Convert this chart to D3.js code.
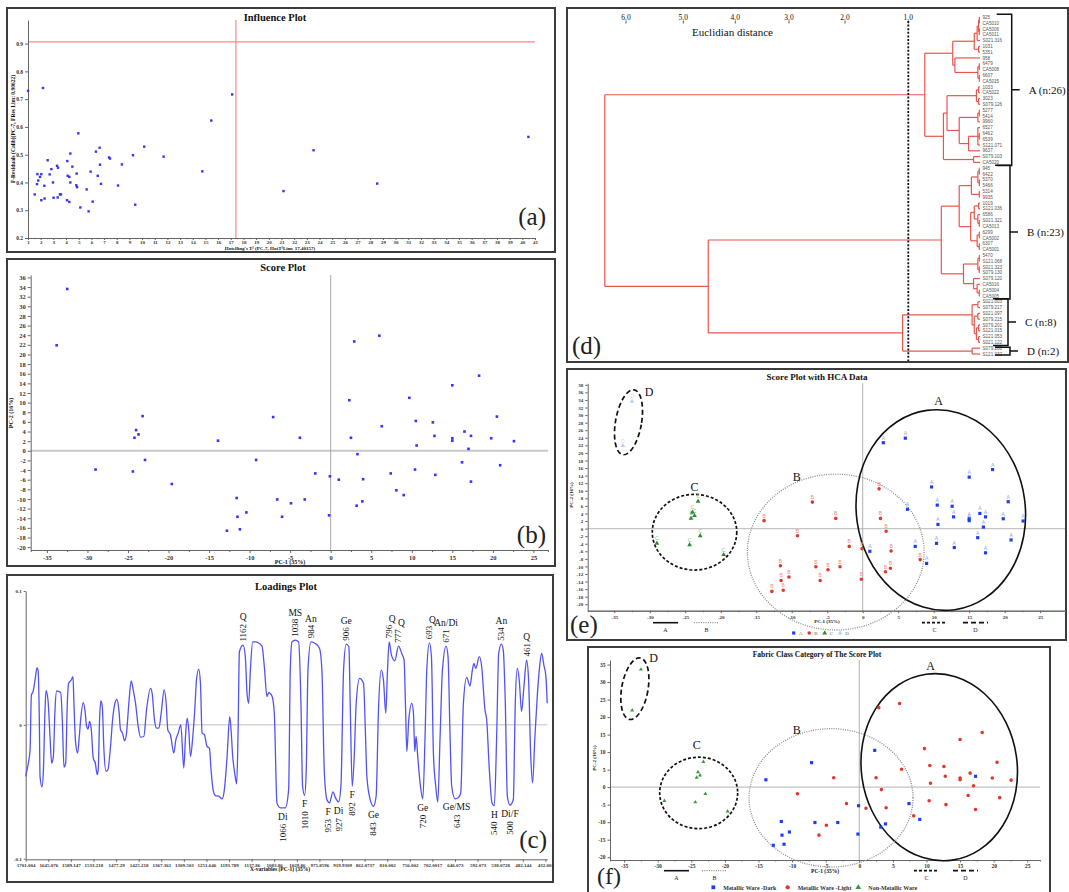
<!DOCTYPE html>
<html>
<head>
<meta charset="utf-8">
<title>PCA / HCA figure</title>
<script src="https://cdnjs.cloudflare.com/ajax/libs/d3/7.8.5/d3.min.js"></script>
<style>
  body { margin: 0; background: #fff; }
  svg { display: block; }
  text { font-family: "Liberation Serif", "Times New Roman", serif; }
</style>
</head>
<body>
<div id="figure"></div>
<script>
// ---------------- data ----------------

// (a) influence plot
var hotT2 = [1.0,2.18,1.53,1.74,1.71,1.81,1.95,2.05,2.05,2.29,2.31,2.55,2.71,2.84,2.97,3.02,3.29,3.37,3.34,3.52,
  3.6,4.1,4.13,4.26,4.08,4.26,4.34,4.34,4.5,4.84,4.81,4.87,4.97,5.13,5.63,5.78,5.94,6.1,6.36,6.5,
  6.65,6.68,6.76,7.39,7.47,8.1,8.41,9.28,9.46,10.17,11.7,14.75,15.46,17.11,21.16,23.53,28.55,40.48];
var fRes = [0.73,0.74,0.357,0.43,0.394,0.407,0.42,0.43,0.336,0.388,0.342,0.48,0.429,0.448,0.40,0.345,0.46,0.453,0.346,0.357,
  0.357,0.477,0.424,0.42,0.336,0.33,0.504,0.40,0.457,0.432,0.39,0.383,0.577,0.31,0.375,0.296,0.439,0.331,0.511,0.424,
  0.525,0.464,0.395,0.49,0.486,0.389,0.465,0.498,0.32,0.529,0.493,0.44,0.623,0.717,0.369,0.516,0.396,0.564];
var hotLim = 17.40157;
var fResLim = 0.90622;

// (b), (e), (f) scores of the 59 samples
var pc1 = [2.9,6.0,18.3,15.0,9.7,10.5,12.6,6.3,20.5,16.5,12.8,15.0,15.0,17.3,19.8,22.6,10.6,17.0,16.2,20.9,10.4,12.9,17.3,7.4,1.0,9.0,
  2.3,-7.1,-3.8,2.5,3.3,-1.9,-0.1,4.0,8.1,3.9,3.2,-6.6,-4.9,-3.2,-6.0,-0.2,-11.6,-11.5,-10.4,-12.8,-11.2,-13.9,-9.2,
  -23.2,-24.0,-23.7,-24.2,-22.9,-29.0,-24.4,-19.6,
  -32.5,-33.8];
var pc2 = [22.7,23.9,15.6,13.6,11.0,6.2,5.9,5.1,7.1,4.0,3.1,2.6,2.1,3.1,2.6,2.0,1.1,0.4,-2.4,-3.0,-3.9,-5.0,-6.4,-4.7,-6.0,-9.2,
  10.5,7.0,2.7,2.7,-0.7,-4.7,-5.3,-5.9,-8.2,-10.5,-11.4,-10.1,-10.9,-10.1,-13.7,-13.4,-9.8,-13.7,-12.8,-16.6,-16.3,2.1,-1.9,
  7.2,4.3,3.4,2.7,-1.9,-3.9,-4.3,-6.9,
  33.6,21.9];
var hcaGroup = "AAAAAAAAAAAAAAAAAAAAAAAAAABBBBBBBBBBBBBBBBBBBBBBBCCCCCCCCDD".split("");
var fabric = ("LLLLLLLLLLLLLDLLLLLLLLLDLD" + "DDLLLLDLLDDDLDLDDDDDDDL" + "NNNNNNNNNN").split("");
var fabricNames = ["Metallic Ware -Dark", "Metallic Ware -Light", "Non-Metallic Ware"];

// HCA cluster ellipses (data units): centre, radii, tilt
var ellE = [["A",11.0,4.9,11.9,26.6,-8],["B",-3.8,-6.2,12.45,20.6,0],["C",-23.7,-0.95,5.95,10.0,0],["D",-33.0,28.1,1.83,8.7,10]];
var ellELabel = [[10.7,33.8],[-9.3,13.7],[-23.7,11.1],[-30.1,36.1]];
var ellF = [["A",11.9,5.7,11.6,26.8,-8],["B",-4.2,-3.05,12.2,19.75,0],["C",-23.9,-1.65,5.8,10.2,0],["D",-33.4,28.1,1.96,8.9,10]];
var ellFLabel = [[10.6,34.7],[-9.3,16.5],[-24.2,12.0],[-30.6,36.8]];

// (c) loadings of PC-1 against variable number (29 variables per tick)
var loadTicks = ["1701.004","1645.076","1589.147","1533.218","1477.29","1425.218","1367.361","1309.503","1251.646","1193.789",
  "1137.86","1083.86","1029.86","975.8596","919.9309","862.0737","810.002","756.002","702.0017","646.073","592.073",
  "538.0728","482.144","432.001"];
var loadings = [
[0,-0.0385],[3.4,-0.0285],[5.6,-0.0186],[7.3,0.0223],[9.4,0.0248],[12,0.0335],[14.5,0.0427],[15.8,0.0409],[17.5,0.0037],[18.4,-0.0385],
[20.9,-0.0464],[22.6,-0.036],[24.8,0.0112],[26.1,0.0256],[28.6,0.0186],[31.2,-0.0087],[33.3,-0.0285],[35.5,-0.0236],[37.6,0.0112],[39.7,0.0253],
[44.9,0.0241],[47,0.0037],[49.1,-0.0315],[51.3,-0.0285],[53.4,0.0161],[55.1,0.031],[58.5,0.0335],[60.7,0.036],[61.9,0.0161],[64.1,-0.0136],
[66.6,-0.0211],[68.8,-0.0087],[70.5,0.0037],[73.9,0.0166],[76,0.0112],[78.2,-0.0012],[79.9,-0.0032],[82,0.0025],[84.2,-0.0037],[86.7,-0.0248],
[89.3,-0.0285],[91.8,-0.0372],[93.1,-0.0335],[94.8,0.0037],[96.5,0.0179],[98.3,0.0136],[100.4,-0.0186],[103,-0.0347],[105.5,-0.0335],[108.9,-0.0161],
[111.5,0.0037],[114.5,0.0161],[117,0.0191],[119.6,0.0112],[121.7,-0.0037],[124.3,-0.0062],[126.9,-0.0119],[129.4,-0.0062],[132.4,0.0161],[135.4,0.0328],
[138,0.0261],[141,0.0161],[144.4,-0.0012],[147.4,-0.0092],[151.6,-0.0087],[155.1,0.0112],[160.2,0.0273],[162.3,0.0236],[165.3,0.0037],[167.9,-0.0025],
[170.9,-0.0025],[173.9,0.0087],[177.7,0.0261],[180.3,0.0161],[182.4,-0.0037],[185.8,-0.0074],[190.1,-0.0211],[192.7,-0.0112],[195.7,-0.0062],[199.1,0],
[202.9,-0.0323],[205.1,-0.0087],[207.2,0.005],[209.3,-0.0037],[211.5,-0.0236],[214.5,-0.0087],[217,0.0112],[219.2,0.0335],[222.1,0.0417],[224.3,0.031],
[226.4,-0.0062],[229.4,-0.0074],[232.8,-0.0161],[235.8,-0.0174],[237.9,-0.0335],[240.5,-0.0484],[243.5,-0.0529],[247.8,-0.0533],[252,-0.0553],[255,-0.0484],
[258.5,-0.0236],[261.9,0.0062],[263.6,-0.0037],[265.7,-0.0236],[268.3,-0.036],[270.8,-0.0442],[272.5,-0.0087],[274.3,0.0546],[279,0.0596],[281.9,0.0509],
[284.1,0.0236],[286.2,0.0161],[288.4,0.0409],[291.3,0.062],[294.8,0.062],[303.3,0.0588],[306.3,0.0434],[309.7,0.0211],[311.9,0.0241],[316.1,0.0216],
[319.1,0.0087],[322.5,-0.0583],[326.8,-0.062],[333.2,-0.062],[337.5,-0.0484],[339.6,0.0409],[341.8,0.062],[346,0.0633],[350.3,0.062],[353.3,0.0161],
[355.4,-0.0459],[358,-0.0526],[360.1,-0.0335],[362.3,0.0409],[366.1,0.062],[371.7,0.0608],[377.2,0.0571],[380.2,0.0409],[383.2,-0.0335],[386.6,-0.0558],
[390,-0.0583],[394.3,-0.0501],[397.7,-0.0546],[401.6,-0.0576],[404.6,-0.0459],[408,0.0409],[411.4,0.0603],[414.8,0.0583],[416.5,0.0161],[419.1,-0.0459],
[421.7,-0.0236],[424.2,0.0161],[428.5,0.0347],[433.6,0.031],[436.2,-0.0087],[437.9,-0.0385],[442.2,-0.0558],[446.4,-0.0608],[449.8,-0.0533],[452.8,0.0112],
[456.3,0.0409],[459.2,0.0335],[462.2,0.0087],[464.4,0.0409],[466.5,0.062],[469.5,0.0521],[473.8,0.0479],[478.5,0.0588],[482.7,0.0533],[485.7,0.0484],
[487.4,0.0161],[489.2,-0.0199],[491.7,0.0037],[495.6,0.0161],[497.7,0.0087],[499.4,-0.0199],[501.1,-0.0087],[503.2,-0.0236],[506.2,-0.0434],[509.7,-0.0553],
[512.6,-0.0087],[514.8,0.0409],[518.2,0.0613],[520.8,0.0509],[523.3,-0.0211],[526.3,-0.0459],[528.9,-0.0578],[531.9,-0.0087],[534.9,0.0409],[539.6,0.0588],
[542.1,0.0509],[544.7,-0.0087],[546.8,-0.0459],[551.1,-0.0553],[555.4,-0.0543],[558.4,-0.0509],[561.8,0.0161],[566,0.0355],[570.3,0.029],[573.3,0.0409],
[575.4,0.0459],[577.6,0.0422],[582.3,0.0509],[585.3,0.0434],[589.5,0.0112],[591.7,0.0037],[595.1,-0.0335],[598.5,-0.0583],[601.5,-0.0603],[604.5,-0.0087],
[607.1,0.0533],[610.5,0.0603],[613,0.0558],[615.6,0.0161],[618.2,-0.0533],[621.6,-0.06],[625.9,-0.0558],[628.4,0.0161],[631,0.0422],[633.5,0.0335],
[636.5,0.0099],[639.5,0.0285],[642.9,0.0484],[645.5,0.0335],[648.1,-0.0211],[650.6,-0.0434],[653.6,-0.0087],[656.6,0.0211],[659.2,0.0409],[662.2,0.0533],
[665.1,0.0447],[667.7,0.036],[669.4,0.0161]
];
// band assignments: [letter, wavenumber, variable, loading]
var peakMarks = [["Q","1162",279,0.0596],["MS","1038",346,0.0633],["An","984",366.1,0.062],["Ge","906",411.4,0.0603],
  ["Q","796",466.5,0.062],["Q","777",478.5,0.0588],["Q","693",518.2,0.0613],["An/Di","671",539.6,0.0588],
  ["An","534",610.5,0.0603],["Q","461",642.9,0.0484]];
var valleyMarks = [["Di","1066",330,-0.062],["F","1010",358,-0.0526],["F","953",388.3,-0.0583],["Di","927",401.6,-0.0576],
  ["F","892",419.1,-0.0459],["Ge","843",446.4,-0.0608],["Ge","720",509.7,-0.0553],["Ge/MS","643",553,-0.055],
  ["H","540",601.5,-0.0603],["Di/F","500",621.6,-0.06]];

// (d) dendrogram: [merge distance, children...]
var treeA = [0.77,
  [0.38,
    [0.08, [0.04, [0.02, [0.01,"925","CA5010"], [0.01,"CA5006","CA5011"]], "S021.316"], [0.02,"1031","5351"]],
    [0.35, "958", [0.03, [0.01,"6479","CA5008"], [0.01,"6607","CA5015"]]]],
  [0.51,
    [0.46, [0.05, [0.02,"1033","CA5022"], [0.02,"3023","S079.126"]],
           [0.29, [0.03, [0.01,"5277","5414"], "9960"], [0.16, [0.03, "6527", [0.01,"6462","6539"], "S121.071"], "9637"]]],
    [0.09, "S079.103", "CA5020"]]];
var treeB = [0.54,
  [0.29,
    [0.12, [0.03, [0.01,"945","6422"], [0.01,"5370","5466"]], [0.01,"5314","9935"]],
    [0.13, [0.08, [0.02,"1019","S121.036"], [0.03,"6586",[0.01,"S021.321","CA5013"]]],
           [0.04, [0.01,"6299","CA5002"], [0.01,"6307","CA5001"]]]],
  [0.23,
    [0.03, [0.01,"5470","S121.068"], [0.01,"S021.323","S079.130"]],
    [0.09, "S079.120", [0.04, "CA5016", [0.01,"CA5004","CA5005"]]]]];
var treeC = [0.11, [0.03,"S021.003","S079.217"],
  [0.08, [0.03,"S021.097","S079.215"], [0.05, [0.02,"S079.201","S121.015"], [0.02,"S121.053","S021.122"]]]];
var treeD = [0.11, "S079.200", "S121.032"];
var treeRoot = [6.37, treeA, [4.52, treeB, [1.09, treeC, treeD]]];
var clusterLabels = ["A (n:26)", "B (n:23)", "C (n:8)", "D (n:2)"];
var distTicks = [6.0, 5.0, 4.0, 3.0, 2.0, 1.0];
var cutDistance = 1.0;

// ---------------- drawing ----------------
var svg = d3.select("#figure").append("svg").attr("width", 1069).attr("height", 892);

function panelBox(x0, y0, x1, y1) {
  svg.append("rect").attr("x", x0).attr("y", y0).attr("width", x1 - x0).attr("height", y1 - y0)
    .attr("fill", "none").attr("stroke", "#3c3c3c").attr("stroke-width", 2);
}
function tidyAxis(g, size) {
  g.attr("font-family", null);
  g.select(".domain").attr("stroke", "#666");
  g.selectAll(".tick line").attr("stroke", "#666");
  g.selectAll(".tick text").attr("font-size", size).attr("font-weight", "bold").attr("fill", "#333")
    .style("font-family", "'Liberation Serif', serif");
  return g;
}
function label(x, y, s, size, opts) {
  opts = opts || {};
  var t = svg.append("text").attr("x", x).attr("y", y).text(s)
    .attr("font-size", size).attr("fill", opts.fill || "#111")
    .attr("text-anchor", opts.anchor || "middle")
    .attr("font-weight", opts.bold ? "bold" : null);
  if (opts.rotate) t.attr("transform", "rotate(-90," + x + "," + y + ")");
  return t;
}
var fmt = function(d) { return String(d); };

// ===== (a) Influence plot =====
panelBox(7, 8, 555, 252);
var xA = d3.scaleLinear().domain([1, 41]).range([28, 535]);
var yA = d3.scaleLinear().domain([0.2, 0.985]).range([238, 20]);
var gA = svg.append("g");
gA.append("line").attr("x1", xA(1)).attr("x2", xA(41)).attr("y1", yA(fResLim)).attr("y2", yA(fResLim))
  .attr("stroke", "#f28c8c").attr("stroke-width", 1.2);
gA.append("line").attr("x1", xA(hotLim)).attr("x2", xA(hotLim)).attr("y1", yA(0.985)).attr("y2", yA(0.2))
  .attr("stroke", "#f28c8c").attr("stroke-width", 1.2);
gA.append("g").attr("transform", "translate(0,238)")
  .call(d3.axisBottom(xA).tickValues(d3.range(1.5, 41, 1)).tickSize(1.2).tickFormat(""))
  .call(tidyAxis, 5);
gA.append("g").attr("transform", "translate(0,238)")
  .call(d3.axisBottom(xA).tickValues(d3.range(1, 42)).tickSize(2).tickSizeOuter(0).tickPadding(0.5).tickFormat(fmt))
  .call(tidyAxis, 5);
gA.append("g").attr("transform", "translate(28,0)")
  .call(d3.axisLeft(yA).tickValues([0.2,0.3,0.4,0.5,0.6,0.7,0.8,0.9]).tickSize(3).tickSizeOuter(0).tickPadding(2).tickFormat(d3.format(".1f")))
  .call(tidyAxis, 5.5);
gA.selectAll("rect.pt").data(hotT2).join("rect").attr("class", "pt")
  .attr("x", function(d) { return xA(d) - 1.2; })
  .attr("y", function(d, i) { return yA(fRes[i]) - 1.2; })
  .attr("width", 2.4).attr("height", 2.4).attr("fill", "#3535f5");
label(275, 20.5, "Influence Plot", 10.5, {bold: true});
label(270, 250, "Hotelling's T\u00b2 (PC-7, HotT\u00b2Lim: 17.40157)", 5, {bold: true});
label(15, 129, "F-Residuals (Calib)(PC-7, FRes Lim: 0.90622)", 5.5, {bold: true, rotate: true});
label(546, 225, "(a)", 25, {anchor: "end", fill: "#222"});

// ===== (b) Score plot =====
panelBox(7, 259, 555, 566);
var xB = d3.scaleLinear().domain([-37, 26.8]).range([30.7, 548]);
var yB = d3.scaleLinear().domain([-20.6, 36.5]).range([550, 275]);
var gB = svg.append("g");
gB.append("line").attr("x1", xB(-37)).attr("x2", xB(26.8)).attr("y1", yB(0)).attr("y2", yB(0))
  .attr("stroke", "#c8c8c8").attr("stroke-width", 2);
gB.append("line").attr("x1", xB(0)).attr("x2", xB(0)).attr("y1", yB(36.5)).attr("y2", yB(-20.6))
  .attr("stroke", "#a8a8a8").attr("stroke-width", 1);
gB.append("g").attr("transform", "translate(0,550)")
  .call(d3.axisBottom(xB).tickValues(d3.range(-32.5, 26, 5)).tickSize(2).tickFormat(""))
  .call(tidyAxis, 6.5);
gB.append("g").attr("transform", "translate(0,550)")
  .call(d3.axisBottom(xB).tickValues(d3.range(-35, 26, 5)).tickSize(3).tickSizeOuter(0).tickPadding(2).tickFormat(fmt))
  .call(tidyAxis, 6.5);
gB.append("g").attr("transform", "translate(30.7,0)")
  .call(d3.axisLeft(yB).tickValues(d3.range(-20, 37, 2)).tickSize(3).tickSizeOuter(0).tickPadding(2).tickFormat(fmt))
  .call(tidyAxis, 6.5);
gB.selectAll("rect.pt").data(pc1).join("rect").attr("class", "pt")
  .attr("x", function(d) { return xB(d) - 1.3; })
  .attr("y", function(d, i) { return yB(pc2[i]) - 1.3; })
  .attr("width", 2.6).attr("height", 2.6).attr("fill", "#3535f5");
label(283, 271, "Score Plot", 10.5, {bold: true});
label(290, 564, "PC-1 (35%)", 6, {bold: true});
label(13, 413, "PC-2 (16%)", 6, {bold: true, rotate: true});
label(546, 543, "(b)", 25, {anchor: "end", fill: "#222"});

// ===== (c) Loadings plot =====
panelBox(7, 575, 553, 882);
var xC = d3.scaleLinear().domain([0, 669.5]).range([25.7, 547.3]);
var yC = d3.scaleLinear().domain([-0.1, 0.1]).range([858.7, 591]);
var gC = svg.append("g");
gC.append("line").attr("x1", xC(0)).attr("x2", xC(669.5)).attr("y1", yC(0)).attr("y2", yC(0))
  .attr("stroke", "#c0c0c0").attr("stroke-width", 1);
gC.append("g").attr("transform", "translate(0,859.3)")
  .call(d3.axisBottom(xC).tickValues(d3.range(0, 668, 29)).tickSize(2.5).tickSizeOuter(0).tickPadding(1.5)
    .tickFormat(function(d, i) { return loadTicks[i]; }))
  .call(tidyAxis, 5);
gC.append("g").attr("transform", "translate(25.7,0)")
  .call(d3.axisLeft(yC).tickValues([-0.1, 0, 0.1]).tickSize(2).tickSizeOuter(0).tickPadding(2).tickFormat(fmt))
  .call(tidyAxis, 5);
gC.append("path").datum(loadings)
  .attr("d", d3.line().x(function(d) { return xC(d[0]); }).y(function(d) { return yC(d[1]); }).curve(d3.curveMonotoneX))
  .attr("fill", "none").attr("stroke", "#5252f7").attr("stroke-width", 1.3);
peakMarks.forEach(function(p) {
  var x = xC(p[2]), y0 = yC(p[3]) - 3.5, len = p[1].length * 4.4;
  label(x + 3, y0, p[1], 9, {anchor: "start", rotate: true});
  label(x + (p[0] === "Q" && p[1] !== "1162" && p[1] !== "461" ? 3 : 0), y0 - len - 3.5, p[0], 9.5);
});
valleyMarks.forEach(function(p) {
  var x = xC(p[2]), yb = yC(p[3]) + 12;
  label(x, yb, p[0], 9.5);
  label(x + 3, yb + 4, p[1], 9, {anchor: "end", rotate: true});
});
label(286, 590, "Loadings Plot", 10.5, {bold: true});
label(280, 871, "X-variables (PC-1) (35%)", 5.5, {bold: true});
label(547, 848, "(c)", 25, {anchor: "end", fill: "#222"});

// ===== (d) Dendrogram =====
panelBox(567, 8, 1068, 362);
var dendX = d3.scaleLinear().domain([0, 1, 2, 3, 4, 5, 6]).range([980, 908.3, 845, 789, 735.3, 683.3, 626]);
var rootNode = d3.hierarchy(treeRoot, function(d) { return Array.isArray(d) ? d.slice(1) : null; });
var leafNames = rootNode.leaves().map(function(n) { return n.data; });
var dendY = d3.scalePoint().domain(leafNames).range([17.3, 354]);
rootNode.eachAfter(function(n) {
  if (n.children) {
    n.h = n.data[0];
    n.py = (n.children[0].py + n.children[n.children.length - 1].py) / 2;
  } else {
    n.h = 0;
    n.py = dendY(n.data);
  }
});
var segs = [];
rootNode.each(function(n) {
  if (!n.children) return;
  var x = dendX(n.h);
  segs.push([x, n.children[0].py, x, n.children[n.children.length - 1].py]);
  n.children.forEach(function(c) { segs.push([x, c.py, dendX(c.h), c.py]); });
});
var gD = svg.append("g");
gD.selectAll("line.seg").data(segs).join("line").attr("class", "seg")
  .attr("x1", function(d) { return d[0]; }).attr("y1", function(d) { return d[1]; })
  .attr("x2", function(d) { return d[2]; }).attr("y2", function(d) { return d[3]; })
  .attr("stroke", "#e8554c").attr("stroke-width", 1.2);
gD.selectAll("text.leaf").data(leafNames).join("text").attr("class", "leaf")
  .attr("x", dendX(0) + 2.5).attr("y", function(d) { return dendY(d); }).attr("dy", "0.35em")
  .attr("font-size", 4.6).attr("fill", "#555").style("font-family", "'Liberation Sans', Arial, sans-serif")
  .text(function(d) { return d; });
gD.selectAll("text.dt").data(distTicks).join("text").attr("class", "dt")
  .attr("x", function(d) { return dendX(d); }).attr("y", 20).attr("text-anchor", "middle")
  .attr("font-size", 7.5).attr("fill", "#111").text(function(d) { return d.toFixed(1); });
gD.selectAll("line.dt").data(distTicks).join("line").attr("class", "dt")
  .attr("x1", function(d) { return dendX(d); }).attr("x2", function(d) { return dendX(d); })
  .attr("y1", 20.5).attr("y2", 23.5).attr("stroke", "#333").attr("stroke-width", 0.8);
gD.append("line").attr("x1", dendX(cutDistance)).attr("x2", dendX(cutDistance)).attr("y1", 21).attr("y2", 361)
  .attr("stroke", "#111").attr("stroke-width", 1.8).attr("stroke-dasharray", "2,1.6");
label(692, 36, "Euclidian distance", 11, {anchor: "start"});
// cluster brackets, spanning the leaves of each cluster
var clusterLeaves = [treeA, treeB, treeC, treeD].map(function(t) {
  return d3.hierarchy(t, function(d) { return Array.isArray(d) ? d.slice(1) : null; }).leaves().map(function(n) { return n.data; });
});
var bracketX = [1011.7, 1010, 1008, 1010];
clusterLeaves.forEach(function(ls, i) {
  var y1 = dendY(ls[0]) - 3, y2 = dendY(ls[ls.length - 1]) + 3, x = bracketX[i], ym = (y1 + y2) / 2;
  if (i === 3) { y1 = dendY(ls[0]) - 1; y2 = dendY(ls[ls.length - 1]) + 1; ym = (y1 + y2) / 2; }
  gD.append("path").attr("d", "M" + (x - 15) + "," + y1 + "H" + x + "V" + y2 + "H" + (x - 15) + "M" + x + "," + ym + "H" + (x + 8))
    .attr("fill", "none").attr("stroke", "#111").attr("stroke-width", 1.5);
  label(x + 17, ym + 3.8, clusterLabels[i], 11, {anchor: "start"});
});
label(572, 354, "(d)", 25, {anchor: "start", fill: "#222"});

// ===== shared pieces for (e) and (f) =====
var hcaFill = {A: "#1d3cf5", B: "#e5352b", C: "#2f8a2f", D: "#b9d0f2"};
var hcaSoft = {A: "#8fa1f6", B: "#f08b85", C: "#8cc38c", D: "#cddcf3"};
var hcaSym = {A: d3.symbolSquare, B: d3.symbolCircle, C: d3.symbolTriangle, D: d3.symbolTriangle};
var fabSym = {D: d3.symbolSquare, L: d3.symbolCircle, N: d3.symbolTriangle};
var fabFill = {D: "#1d3cf5", L: "#e5352b", N: "#3c9a3c"};
var ellStyle = {
  A: {stroke: "#111", width: 1.6, dash: null},
  B: {stroke: "#8a8a8a", width: 1.3, dash: "1,1.3"},
  C: {stroke: "#111", width: 1.7, dash: "3,2"},
  D: {stroke: "#111", width: 1.7, dash: "5,3"}
};

function scoreFrame(x, y, x0, x1, y0, y1, yTicks, fs) {
  var g = svg.append("g");
  g.append("line").attr("x1", x(x0)).attr("x2", x(x1)).attr("y1", y(0)).attr("y2", y(0))
    .attr("stroke", "#c4c4c4").attr("stroke-width", 1.3);
  g.append("line").attr("x1", x(0)).attr("x2", x(0)).attr("y1", y(y1)).attr("y2", y(y0))
    .attr("stroke", "#b0b0b0").attr("stroke-width", 1);
  g.append("g").attr("transform", "translate(0," + y(y0) + ")")
    .call(d3.axisBottom(x).tickValues(d3.range(-32.5, 26, 5)).tickSize(1.5).tickFormat(""))
    .call(tidyAxis, fs);
  g.append("g").attr("transform", "translate(0," + y(y0) + ")")
    .call(d3.axisBottom(x).tickValues(d3.range(-35, 26, 5)).tickSize(2.5).tickSizeOuter(0).tickPadding(2).tickFormat(fmt))
    .call(tidyAxis, fs);
  g.append("g").attr("transform", "translate(" + x(x0) + ",0)")
    .call(d3.axisLeft(y).tickValues(yTicks).tickSize(2.5).tickSizeOuter(0).tickPadding(2).tickFormat(fmt))
    .call(tidyAxis, fs);
  return g;
}
function drawEllipses(g, x, y, ells, labs) {
  ells.forEach(function(e, i) {
    var cx = x(e[1]), cy = y(e[2]), st = ellStyle[e[0]];
    g.append("ellipse").attr("cx", cx).attr("cy", cy)
      .attr("rx", x(e[1] + e[3]) - cx).attr("ry", cy - y(e[2] + e[4]))
      .attr("transform", "rotate(" + e[5] + "," + cx + "," + cy + ")")
      .attr("fill", "none").attr("stroke", st.stroke).attr("stroke-width", st.width)
      .attr("stroke-dasharray", st.dash);
    g.append("text").attr("x", x(labs[i][0])).attr("y", y(labs[i][1])).attr("dy", "0.35em")
      .attr("text-anchor", "middle").attr("font-size", 12).attr("fill", "#111").text(e[0]);
  });
}
function lineLegend(g, xs, yLine, yText) {
  ["A", "B", "C", "D"].forEach(function(k, i) {
    var st = ellStyle[k];
    g.append("line").attr("x1", xs[i]).attr("x2", xs[i] + 25).attr("y1", yLine).attr("y2", yLine)
      .attr("stroke", st.stroke).attr("stroke-width", st.width).attr("stroke-dasharray", st.dash);
    g.append("text").attr("x", xs[i] + 12.5).attr("y", yText).attr("text-anchor", "middle")
      .attr("font-size", 6).attr("fill", "#222").text(k);
  });
}

// ===== (e) Score plot with HCA data =====
panelBox(567, 369, 1066, 640);
var xE = d3.scaleLinear().domain([-38.75, 28.5]).range([587.7, 1065]);
var yE = d3.scaleLinear().domain([-21.7, 38.4]).range([610.7, 383.3]);
var gE = scoreFrame(xE, yE, -38.75, 28.5, -21.7, 38.4, d3.range(-20, 39, 2), 5);
drawEllipses(gE, xE, yE, ellE, ellELabel);
gE.selectAll("text.pl").data(pc1).join("text").attr("class", "pl")
  .attr("x", function(d) { return xE(d); }).attr("y", function(d, i) { return yE(pc2[i]) - 3; })
  .attr("text-anchor", "middle").attr("font-size", 5).style("font-family", "'Liberation Sans', Arial, sans-serif")
  .attr("fill", function(d, i) { return hcaSoft[hcaGroup[i]]; })
  .text(function(d, i) { return hcaGroup[i]; });
gE.selectAll("path.pt").data(pc1).join("path").attr("class", "pt")
  .attr("transform", function(d, i) { return "translate(" + xE(d) + "," + yE(pc2[i]) + ")"; })
  .attr("d", function(d, i) { return d3.symbol().type(hcaSym[hcaGroup[i]]).size(10)(); })
  .attr("fill", function(d, i) { return hcaFill[hcaGroup[i]]; });
lineLegend(gE, [653, 694, 922, 963], 622.7, 632);
["A", "B", "C", "D"].forEach(function(k, i) {
  var x = 793.7 + i * 15.5;
  gE.append("path").attr("transform", "translate(" + x + ",633)").attr("d", d3.symbol().type(hcaSym[k]).size(10)())
    .attr("fill", hcaFill[k]);
  gE.append("text").attr("x", x + 5).attr("y", 635).attr("font-size", 5).attr("fill", "#666").text(k);
});
label(817, 380, "Score Plot with HCA Data", 9, {bold: true});
label(827, 622.5, "PC-1 (35%)", 5, {bold: true});
label(573, 495, "PC-2 (16%)", 5, {bold: true, rotate: true});
label(570, 633, "(e)", 25, {anchor: "start", fill: "#222"});

// ===== (f) Fabric class category of the score plot =====
panelBox(588, 647, 1050, 900);
var xF = d3.scaleLinear().domain([-37.1, 26.9]).range([610, 1040]);
var yF = d3.scaleLinear().domain([-20.8, 36.3]).range([860, 660]);
var gF = scoreFrame(xF, yF, -37.1, 26.9, -20.8, 36.3, d3.range(-20, 36, 5), 5.5);
drawEllipses(gF, xF, yF, ellF, ellFLabel);
gF.selectAll("path.pt").data(pc1).join("path").attr("class", "pt")
  .attr("transform", function(d, i) { return "translate(" + xF(d) + "," + yF(pc2[i]) + ")"; })
  .attr("d", function(d, i) { return d3.symbol().type(fabSym[fabric[i]]).size(fabric[i] === "N" ? 7 : 10)(); })
  .attr("fill", function(d, i) { return fabFill[fabric[i]]; });
lineLegend(gF, [664, 702, 914, 953], 870.7, 879.5);
["D", "L", "N"].forEach(function(k, i) {
  var x = [713.3, 787.7, 858.3][i];
  gF.append("path").attr("transform", "translate(" + x + ",887.3)").attr("d", d3.symbol().type(fabSym[k]).size(14)())
    .attr("fill", fabFill[k]);
  gF.append("text").attr("x", x + 10).attr("y", 889.5).attr("font-size", 6).attr("font-weight", "bold")
    .attr("fill", "#333").text(fabricNames[i]);
});
label(817, 657, "Fabric Class Category of The Score Plot", 7.5, {bold: true});
label(825, 873, "PC-1 (35%)", 5.5, {bold: true});
label(596, 758, "PC-2 (16%)", 5, {bold: true, rotate: true});
label(597, 884, "(f)", 24, {anchor: "start", fill: "#222"});
</script>
</body>
</html>
